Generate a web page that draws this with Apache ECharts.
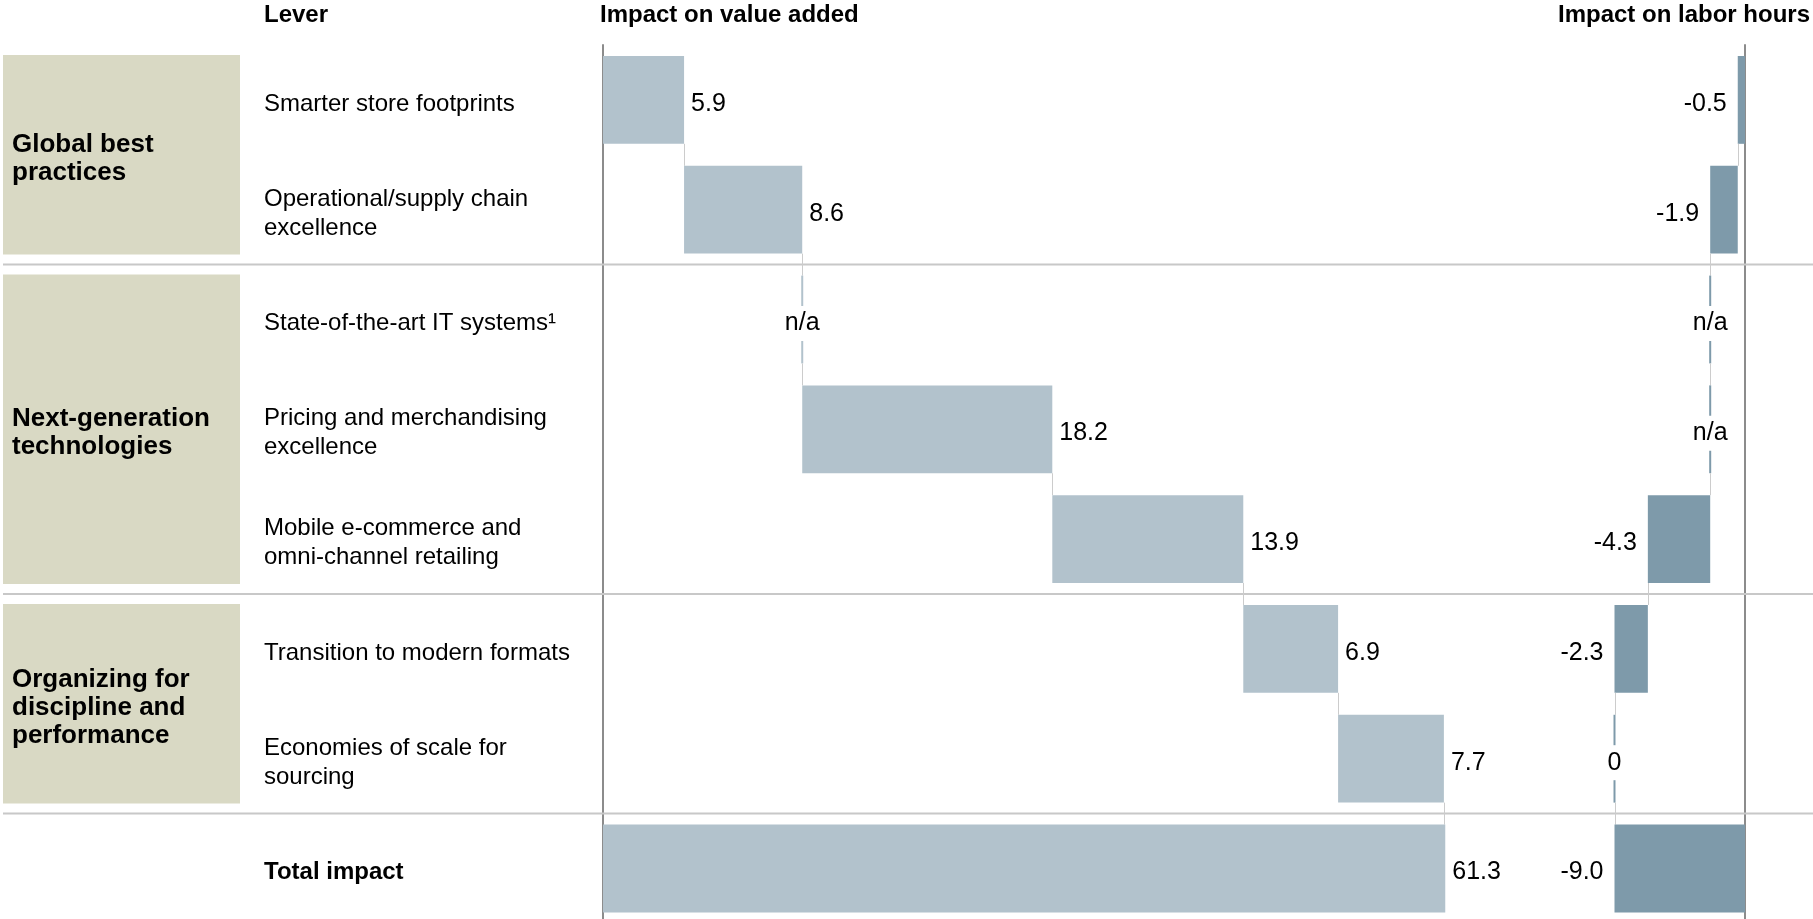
<!DOCTYPE html>
<html>
<head>
<meta charset="utf-8">
<title>Impact of levers on value added and labor hours</title>
<script src="https://cdn.jsdelivr.net/npm/echarts@6/dist/echarts.min.js"></script>
<style>
  html, body { margin: 0; padding: 0; background: #ffffff; }
  #chart { width: 1813px; height: 919px; }
</style>
</head>
<body>
<div id="chart"></div>
<script>
// ---- Data ----
const levers = [
  'Smarter store footprints',
  'Operational/supply chain\nexcellence',
  'State-of-the-art IT systems\u00B9',
  'Pricing and merchandising\nexcellence',
  'Mobile e-commerce and\nomni-channel retailing',
  'Transition to modern formats',
  'Economies of scale for\nsourcing',
  'Total impact'
];
const groupNames = ['Global best\npractices', 'Next-generation\ntechnologies', 'Organizing for\ndiscipline and\nperformance'];
const groupFirstRow = [0, 2, 5];
const groupLastRow = [1, 4, 6];
// value added (null = n/a); last entry is the total
const valueAdded = [5.9, 8.6, null, 18.2, 13.9, 6.9, 7.7, 61.3];
// labor hours (null = n/a); last entry is the total
const laborHours = [-0.5, -1.9, null, null, -4.3, -2.3, 0, -9.0];
const headers = ['Lever', 'Impact on value added', 'Impact on labor hours'];

// ---- Styling / layout ----
const FONT = "'Liberation Sans', Arial, Helvetica, sans-serif";
const VALUE_COLOR = '#b2c2cc';
const LABOR_COLOR = '#7e9aaa';
const CONNECTOR = '#cccccc';
const AXIS_GRAY = '#8c8c8c';
const SEPARATOR = '#c8c8c8';
const BOX_COLOR = '#d9d9c4';
const GRID_TOP = 45;
const GRID_HEIGHT = 874;          // down to the bottom edge of the canvas
const ROW_PX = 109.8;             // height of one lever row
const Y_MAX = GRID_HEIGHT / ROW_PX; // rows are 1 unit tall on the y axes
const BAR_RATIO = 0.8;
const TEXT_DY = 4;                // optical baseline nudge for text

// Build waterfall segments: [start, end, rowCenter, previousEnd]
function waterfall(values) {
  const out = [];
  let cum = 0;
  let prevEnd = null;
  values.forEach(function (v, i) {
    const isTotal = i === values.length - 1;
    let start, end;
    if (isTotal) { start = 0; end = v; }
    else { start = cum; end = cum + (v || 0); cum = end; }
    out.push([start, end, i + 0.5, prevEnd === null ? '-' : prevEnd]);
    prevEnd = end;
  });
  return out;
}

function labelText(v) {
  if (v === null) return 'n/a';
  if (v === 0) return '0';
  return v.toFixed(1);
}

function makeRenderer(values, color, side) {
  return function (params, api) {
    const s = api.value(0), e = api.value(1), row = api.value(2), prev = api.value(3);
    const unit = api.size([0, 1])[1];
    const h = unit * BAR_RATIO;
    const ps = api.coord([s, row]);
    const pe = api.coord([e, row]);
    const cy = ps[1];
    const top = cy - h / 2;
    const children = [];
    // connector from previous bar
    if (!isNaN(prev)) {
      const pc = api.coord([prev, row - 1]);
      const x = Math.round(pc[0]) + 0.5;
      children.push({
        type: 'line',
        shape: { x1: x, y1: pc[1] + h / 2, x2: x, y2: top },
        style: { stroke: CONNECTOR, lineWidth: 1 }
      });
    }
    const v = values[params.dataIndex];
    const left = Math.min(ps[0], pe[0]);
    const right = Math.max(ps[0], pe[0]);
    if (v === null || v === 0) {
      // zero-width marker with a centred label
      children.push({
        type: 'rect',
        shape: { x: ps[0] - 1, y: top, width: 2, height: h },
        style: { fill: color }
      });
      children.push({
        type: 'text',
        style: {
          text: labelText(v), x: ps[0], y: cy + TEXT_DY,
          align: 'center', verticalAlign: 'middle',
          font: '25px ' + FONT, fill: '#000',
          backgroundColor: '#ffffff', padding: [5, 2]
        }
      });
    } else {
      children.push({
        type: 'rect',
        shape: { x: left, y: top, width: right - left, height: h },
        style: { fill: color }
      });
      children.push({
        type: 'text',
        style: {
          text: labelText(v),
          x: side === 'right' ? right + 7 : left - 11,
          y: cy + TEXT_DY,
          align: side === 'right' ? 'left' : 'right',
          verticalAlign: 'middle',
          font: '25px ' + FONT, fill: '#000'
        }
      });
    }
    return { type: 'group', children: children };
  };
}

function rowAxis(gridIndex, position, showLine) {
  return {
    gridIndex: gridIndex, type: 'value', min: 0, max: Y_MAX, inverse: true, position: position,
    axisLine: { show: showLine, onZero: false, lineStyle: { color: AXIS_GRAY, width: 2 } },
    axisTick: { show: false },
    axisLabel: { show: false },
    splitLine: { show: false }
  };
}

const chart = echarts.init(document.getElementById('chart'), null, { renderer: 'canvas' });

const option = {
  backgroundColor: '#ffffff',
  animation: false,
  title: [
    { text: headers[0], left: 264, top: 2 },
    { text: headers[1], left: 600, top: 2 },
    { text: headers[2], left: 1558, top: 2 }
  ].map(function (t) {
    return Object.assign(t, {
      padding: 0,
      textStyle: { fontFamily: FONT, fontSize: 24, fontWeight: 'bold', color: '#000', lineHeight: 26 }
    });
  }),
  grid: [
    { left: 0, right: 0, top: GRID_TOP, height: GRID_HEIGHT },
    { left: 603, top: GRID_TOP, width: 961.8, height: GRID_HEIGHT },
    { left: 1600, top: GRID_TOP, width: 145, height: GRID_HEIGHT }
  ],
  xAxis: [
    { gridIndex: 0, type: 'value', min: 0, max: 1813, show: false },
    { gridIndex: 1, type: 'value', min: 0, max: 70, show: false },
    { gridIndex: 2, type: 'value', min: -10, max: 0, show: false }
  ],
  yAxis: [
    rowAxis(0, 'left', false),
    rowAxis(1, 'left', true),
    rowAxis(2, 'right', true)
  ],
  series: [
    // group boxes with their headings
    {
      type: 'custom', xAxisIndex: 0, yAxisIndex: 0, clip: false, silent: true, z: 1,
      data: groupNames.map(function (n, i) { return [0, groupFirstRow[i], groupLastRow[i] + 1]; }),
      encode: { x: 0, y: [1, 2] },
      renderItem: function (params, api) {
        const pad = 10;
        const a = api.coord([3, api.value(1)]);
        const b = api.coord([240, api.value(2)]);
        const y0 = a[1] + pad;
        const y1 = b[1] - pad;
        return {
          type: 'group',
          children: [
            { type: 'rect', shape: { x: a[0], y: y0, width: b[0] - a[0], height: y1 - y0 }, style: { fill: BOX_COLOR } },
            {
              type: 'text',
              style: {
                text: groupNames[params.dataIndex], x: a[0] + 9, y: (y0 + y1) / 2 + TEXT_DY,
                align: 'left', verticalAlign: 'middle',
                font: 'bold 26px ' + FONT, lineHeight: 28, fill: '#000'
              }
            }
          ]
        };
      }
    },
    // lever names
    {
      type: 'custom', xAxisIndex: 0, yAxisIndex: 0, clip: false, silent: true, z: 2,
      data: levers.map(function (n, i) { return [264, i + 0.5]; }),
      encode: { x: 0, y: 1 },
      renderItem: function (params, api) {
        const p = api.coord([api.value(0), api.value(1)]);
        const isTotal = params.dataIndex === levers.length - 1;
        return {
          type: 'text',
          style: {
            text: levers[params.dataIndex], x: p[0], y: p[1] + TEXT_DY,
            align: 'left', verticalAlign: 'middle',
            font: (isTotal ? 'bold ' : '') + '24px ' + FONT, lineHeight: 29, fill: '#000'
          }
        };
      }
    },
    // horizontal separators between lever groups
    {
      type: 'custom', xAxisIndex: 0, yAxisIndex: 0, clip: false, silent: true, z: 2,
      data: groupLastRow.map(function (r) { return [0, r + 1]; }),
      encode: { x: 0, y: 1 },
      renderItem: function (params, api) {
        const a = api.coord([3, api.value(1)]);
        const b = api.coord([1813, api.value(1)]);
        return {
          type: 'line',
          shape: { x1: a[0], y1: a[1], x2: b[0], y2: b[1] },
          style: { stroke: SEPARATOR, lineWidth: 2 }
        };
      }
    },
    // value added waterfall
    {
      type: 'custom', xAxisIndex: 1, yAxisIndex: 1, clip: false, silent: true, z: 3,
      data: waterfall(valueAdded),
      encode: { x: [0, 1], y: 2 },
      renderItem: makeRenderer(valueAdded, VALUE_COLOR, 'right')
    },
    // labor hours waterfall
    {
      type: 'custom', xAxisIndex: 2, yAxisIndex: 2, clip: false, silent: true, z: 3,
      data: waterfall(laborHours),
      encode: { x: [0, 1], y: 2 },
      renderItem: makeRenderer(laborHours, LABOR_COLOR, 'left')
    }
  ]
};

chart.setOption(option);
</script>
</body>
</html>
